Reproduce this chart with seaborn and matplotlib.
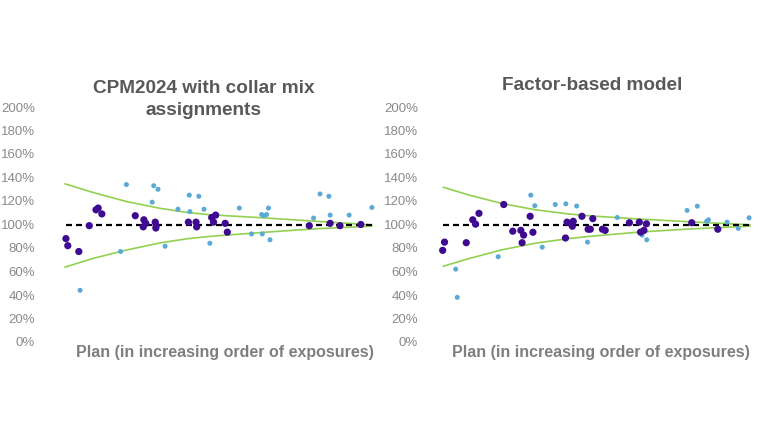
import numpy as np
import pandas as pd
import seaborn as sns
import matplotlib.pyplot as plt
from matplotlib.ticker import FuncFormatter

# --- data (plan position 0-100 in increasing order of exposure, actual/expected ratio in %) ---
# CPM2024 with collar mix assignments
left_dark_x = [0.3, 0.9, 4.5, 7.9, 10.1, 10.8, 12.0, 22.9, 25.7, 26.3, 25.5, 29.4, 29.7, 29.6,
               40.2, 42.7, 42.9, 47.8, 49.1, 48.4, 52.2, 52.9, 79.6, 86.4, 89.6, 96.4]
left_dark_y = [88, 82, 77, 99, 112.5, 114, 109, 107.5, 104, 101, 98, 102, 99, 97,
               102, 102, 98, 106, 108, 102, 101, 93.5, 99, 101, 99, 100]
left_light_x = [4.9, 18.1, 20.0, 28.9, 30.3, 28.4, 32.6, 36.8, 40.5, 40.7, 43.6, 45.3, 47.2,
                56.8, 60.8, 64.1, 64.8, 65.7, 66.3, 64.3, 66.8, 81.0, 83.1, 86.0, 86.4, 92.6, 100.0]
left_light_y = [44, 77, 134, 133, 130, 119, 81.5, 113, 125, 111, 124, 113, 84,
                114, 92, 108.5, 107.5, 108.5, 114, 92, 87, 105.5, 126, 124, 108, 108, 114.5]
left_band_x = [0, 9.2, 20.1, 30.9, 39.6, 47.2, 65.1, 81.4, 100]
left_band_hi = [134.6, 127.2, 119.5, 113.8, 110.3, 108.3, 105.6, 102.8, 99.7]
left_band_lo = [63.7, 71.2, 78.3, 84.3, 87.8, 89.9, 93.4, 96.3, 98.6]

# Factor-based model
right_dark_x = [0.9, 1.5, 8.5, 10.6, 11.5, 12.6, 20.6, 23.5, 26.1, 27.0, 26.5, 29.1, 30.0,
                40.5, 41.0, 43.0, 42.7, 45.8, 47.8, 48.5, 49.3, 52.4, 53.3, 61.1,
                64.3, 64.7, 65.8, 66.6, 81.2, 89.6]
right_dark_y = [78, 85, 84.5, 104, 100.3, 109.5, 117, 94.3, 95, 91, 84.5, 107, 93.4,
                88.5, 102, 102.7, 98.5, 107, 96, 96, 105, 96, 95, 101.5,
                102, 93.5, 95, 100.6, 101.5, 96]
right_light_x = [5.1, 5.6, 18.8, 29.3, 30.6, 33.0, 37.2, 40.6, 44.1, 47.6, 57.2, 65.2, 66.7,
                 79.7, 83.0, 86.0, 86.6, 92.6, 96.2, 99.7]
right_light_y = [62, 38, 72.6, 125, 116, 80.7, 117, 117.6, 115.7, 85, 106, 91, 87,
                 112, 115.6, 102.7, 104, 102, 96.7, 105.7]
right_band_x = [1.1, 9.1, 19.9, 30.6, 41.4, 48.7, 64.5, 80.6, 100]
right_band_hi = [131.7, 125.3, 117.9, 112.6, 109, 107.3, 104.6, 102.3, 99.7]
right_band_lo = [64.5, 70.8, 78.4, 84, 88, 90, 93.6, 96.2, 98.6]

target = 100
titles = ["CPM2024 with collar mix\nassignments", "Factor-based model"]
xlabel = "Plan (in increasing order of exposures)"

DARK = "#3d0a91"
LIGHT = "#5aa9d6"
GREEN = "#92d050"
GREY_TXT = "#7f7f7f"

sns.set_style("white")
plt.rcParams['font.family'] = ['Liberation Sans', 'DejaVu Sans']

fig = plt.figure(figsize=(7.7, 4.33), dpi=100)
ax1 = fig.add_axes([42 / 770, 1 - 342 / 433, 336 / 770, 235 / 433])
ax2 = fig.add_axes([425 / 770, 1 - 342 / 433, 330 / 770, 235 / 433])

panels = [
    (ax1, left_dark_x, left_dark_y, left_light_x, left_light_y, left_band_x, left_band_hi, left_band_lo, (-7.5, 102)),
    (ax2, right_dark_x, right_dark_y, right_light_x, right_light_y, right_band_x, right_band_hi, right_band_lo, (-4.8, 101.6)),
]

for ax, dx, dy, lx, ly, bx, bhi, blo, xlim in panels:
    band = pd.DataFrame({"x": bx, "hi": np.array(bhi) / 100, "lo": np.array(blo) / 100})
    sns.lineplot(data=band, x="x", y="hi", ax=ax, color=GREEN, linewidth=1.2)
    sns.lineplot(data=band, x="x", y="lo", ax=ax, color=GREEN, linewidth=1.2)

    allx = list(dx) + list(lx)
    ax.plot([min(allx), max(allx)], [target / 100] * 2, color="black",
            linewidth=1.6, dashes=(2.7, 1.8), zorder=2)

    sns.scatterplot(x=lx, y=np.array(ly) / 100, ax=ax, color=LIGHT, s=13,
                    edgecolor="none", zorder=3)
    sns.scatterplot(x=dx, y=np.array(dy) / 100, ax=ax, color=DARK, s=27,
                    edgecolor="none", zorder=4)

    ax.set_xlim(*xlim)
    ax.set_ylim(0, 2.0)
    ax.set_yticks(np.arange(0, 2.01, 0.2))
    ax.yaxis.set_major_formatter(FuncFormatter(lambda v, p: f"{v * 100:.0f}%"))
    ax.set_xticks([])
    ax.set_xlabel("")
    ax.set_ylabel("")
    ax.tick_params(axis="y", length=0, pad=5, labelsize=9.5, labelcolor="#8a8a8a")
    for s in ax.spines.values():
        s.set_visible(False)
    ax.patch.set_alpha(0)

fig.text(204 / 770, 1 - 99.5 / 433, titles[0], ha="center", va="center", fontsize=13.7,
         fontweight="bold", color="#595959", linespacing=1.4)
fig.text(592 / 770, 1 - 86 / 433, titles[1], ha="center", va="center", fontsize=13.7,
         fontweight="bold", color="#595959")
fig.text(225 / 770, 1 - 352 / 433, xlabel, ha="center", va="center", fontsize=11.5,
         fontweight="bold", color=GREY_TXT)
fig.text(601 / 770, 1 - 353 / 433, xlabel, ha="center", va="center", fontsize=11.5,
         fontweight="bold", color=GREY_TXT)

fig.savefig("out.png", dpi=100)
